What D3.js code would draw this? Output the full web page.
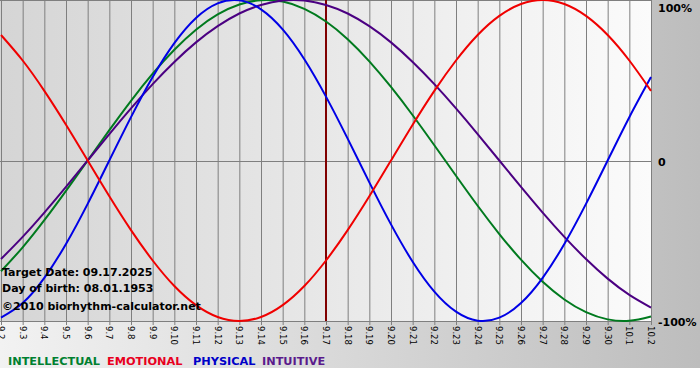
<!DOCTYPE html>
<html><head><meta charset="utf-8">
<script src="https://cdn.jsdelivr.net/npm/d3@7/dist/d3.min.js"></script>
<style>body{margin:0;background:#fff}svg{display:block}</style>
</head><body><svg id="c" width="700" height="380"></svg>
<script>
const dates = ["9.2","9.3","9.4","9.5","9.6","9.7","9.8","9.9","9.10","9.11","9.12","9.13","9.14","9.15","9.16","9.17","9.18","9.19","9.20","9.21","9.22","9.23","9.24","9.25","9.26","9.27","9.28","9.29","9.30","10.1","10.2"];
const intellectual = [-69.0,-54.1,-37.2,-18.9,0,18.9,37.2,54.1,69.0,81.5,91.0,97.2,99.9,99.0,94.5,86.6,75.6,61.8,45.8,28.2,9.5,-9.5,-28.2,-45.8,-61.8,-75.6,-86.6,-94.5,-99.0,-99.9,-97.2];
const emotional = [78.2,62.3,43.4,22.3,0,-22.3,-43.4,-62.3,-78.2,-90.1,-97.5,-100,-97.5,-90.1,-78.2,-62.3,-43.4,-22.3,0,22.3,43.4,62.3,78.2,90.1,97.5,100,97.5,90.1,78.2,62.3,43.4];
const physical = [-97.9,-88.8,-73.1,-52.0,-27.0,0,27.0,52.0,73.1,88.8,97.9,99.8,94.2,81.7,63.1,39.8,13.6,-13.6,-39.8,-63.1,-81.7,-94.2,-99.8,-97.9,-88.8,-73.1,-52.0,-27.0,0,27.0,52.0];
const intuitive = [-61.4,-47.6,-32.5,-16.5,0,16.5,32.5,47.6,61.4,73.6,83.7,91.6,96.9,99.7,99.7,96.9,91.6,83.7,73.6,61.4,47.6,32.5,16.5,0,-16.5,-32.5,-47.6,-61.4,-73.6,-83.7,-91.6];
const yTickValues = [100, 0, -100];
const yTickLabels = ["100%", "0", "-100%"];
const targetDate = "9.17";
const infoLines = ["Target Date: 09.17.2025", "Day of birth: 08.01.1953", "\u00A92010 biorhythm-calculator.net"];
const seriesNames = ["INTELLECTUAL", "EMOTIONAL", "PHYSICAL", "INTUITIVE"];
const seriesColors = ["#007a1e", "#f00000", "#0000e6", "#4b0082"];
const legendColors = ["#008030", "#e8001e", "#0000c8", "#5a1a8c"];

const svg = d3.select("#c");
const W = 700, H = 380;
const plotL = 0, plotR = 651, plotT = 0, plotB = 321;

const defs = svg.append("defs");
const gOut = defs.append("linearGradient").attr("id","gout").attr("x1","0").attr("x2","1").attr("y1","0").attr("y2","0");
gOut.append("stop").attr("offset","0").attr("stop-color","#f2f2f2");
gOut.append("stop").attr("offset","1").attr("stop-color","#bdbdbd");
const gPlot = defs.append("linearGradient").attr("id","gplot").attr("x1","0").attr("x2","1").attr("y1","0").attr("y2","0");
gPlot.append("stop").attr("offset","0").attr("stop-color","#d5d5d5");
gPlot.append("stop").attr("offset","1").attr("stop-color","#fbfbfb");
defs.append("clipPath").attr("id","clip").append("rect")
  .attr("x", plotL).attr("y", plotT - 2).attr("width", plotR - plotL + 1).attr("height", plotB - plotT + 4);

svg.append("rect").attr("x",0).attr("y",0).attr("width",W).attr("height",368).attr("fill","url(#gout)");
svg.append("rect").attr("x",plotL).attr("y",plotT).attr("width",plotR-plotL).attr("height",plotB-plotT).attr("fill","url(#gplot)");

const x = d3.scalePoint().domain(dates).range([1, 651]);
const y = d3.scaleLinear().domain([-100, 100]).range([321, 0]);

// vertical grid + ticks
svg.append("g").selectAll("line").data(dates).join("line")
  .attr("x1", d => x(d) + 0.5).attr("x2", d => x(d) + 0.5)
  .attr("y1", 0).attr("y2", 325)
  .attr("stroke", "#7f7f7f").attr("stroke-width", 1);

// horizontal grid
svg.append("g").selectAll("line").data(yTickValues).join("line")
  .attr("x1", 0).attr("x2", plotR + 1)
  .attr("y1", d => Math.round(y(d)) + 0.5).attr("y2", d => Math.round(y(d)) + 0.5)
  .attr("stroke", "#7f7f7f").attr("stroke-width", 1);

// x tick labels (rotated)
svg.append("g").selectAll("text").data(dates).join("text")
  .attr("transform", d => `translate(${x(d) - 3},326) rotate(90)`)
  .attr("font-family", "DejaVu Sans, Verdana, sans-serif")
  .attr("font-size", "8.5px")
  .attr("fill", "#000")
  .text(d => d);

// right axis labels
svg.append("g").selectAll("text").data(yTickValues).join("text")
  .attr("x", 658)
  .attr("y", (d, i) => [12, 166, 326][i])
  .attr("font-family", "DejaVu Sans, Verdana, sans-serif")
  .attr("font-weight", "bold")
  .attr("font-size", "11px")
  .attr("fill", "#000")
  .text((d, i) => yTickLabels[i]);

// target date line
svg.append("line")
  .attr("x1", x(targetDate)).attr("x2", x(targetDate))
  .attr("y1", 0).attr("y2", 321)
  .attr("stroke", "#800000").attr("stroke-width", 2);

// curves
const line = d3.line().x((d, i) => x(dates[i])).y(d => y(d)).curve(d3.curveNatural);
const seriesData = [intellectual, emotional, physical, intuitive];
const order = [0, 3, 2, 1];
const cg = svg.append("g").attr("clip-path", "url(#clip)");
cg.selectAll("path").data(order).join("path")
  .attr("d", k => line(seriesData[k]))
  .attr("fill", "none")
  .attr("stroke", k => seriesColors[k])
  .attr("stroke-width", 2);

// info text
svg.append("g").selectAll("text").data(infoLines).join("text")
  .attr("x", 2)
  .attr("y", (d, i) => [276, 292, 310][i])
  .attr("font-family", "DejaVu Sans, Verdana, sans-serif")
  .attr("font-weight", "bold")
  .attr("font-size", "11px")
  .attr("fill", "#000")
  .text(d => d);

// legend
const legendX = [8, 107, 193, 262];
svg.append("g").selectAll("text").data(seriesNames).join("text")
  .attr("x", (d, i) => legendX[i])
  .attr("y", 365)
  .attr("font-family", "DejaVu Sans, Verdana, sans-serif")
  .attr("font-weight", "bold")
  .attr("font-size", "11.3px")
  .attr("fill", (d, i) => legendColors[i])
  .text(d => d);
</script></body></html>
